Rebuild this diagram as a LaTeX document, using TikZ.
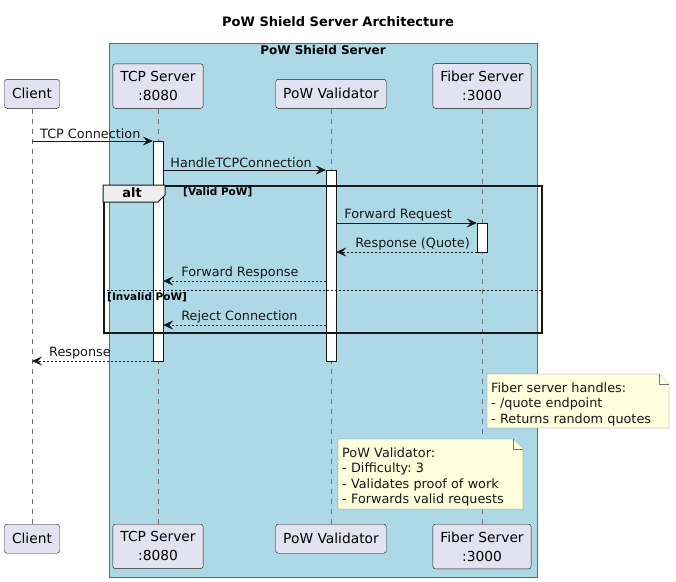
\documentclass[tikz,border=0pt]{standalone}
\usepackage{fontspec}
\setmainfont{DejaVu Sans}
\usetikzlibrary{arrows.meta, positioning}
\definecolor{boxblue}{HTML}{ADD8E6}
\definecolor{partfill}{HTML}{E2E2F0}
\definecolor{notefill}{HTML}{FEFFDD}
\definecolor{inkgray}{HTML}{181818}
\definecolor{tabfill}{HTML}{EEEEEE}
\pgfdeclarelayer{back}
\pgfdeclarelayer{mid}
\pgfsetlayers{back,mid,main}
\frenchspacing
\newcommand\msgfont{\fontsize{12.8}{15.5}\selectfont}
\newcommand\partfont{\fontsize{13.8}{19}\selectfont}
\tikzset{participant/.style={draw=inkgray, fill=partfill, rounded corners=2.5pt, minimum height=29pt, inner xsep=7.5pt, inner ysep=7.5pt, align=center, font=\partfont}}
\tikzset{lifeline/.style={draw=gray!90!black, dash pattern=on 5pt off 5pt}}
\tikzset{activation/.style={draw=inkgray, fill=white, minimum width=10pt, inner sep=0pt, anchor=north}}
\tikzset{msg/.style={draw=inkgray, -{Stealth[length=10pt, width=9pt, inset=4pt]}}}
\tikzset{reply/.style={msg, dash pattern=on 2pt off 2pt}}
\tikzset{msglabel/.style={anchor=south west, inner sep=1pt, font=\msgfont, text=inkgray}}
\tikzset{notebox/.style={draw=gray!90!black, fill=notefill}}
\tikzset{notetext/.style={anchor=north west, inner xsep=4pt, inner ysep=0pt, align=left, font=\msgfont, text=inkgray}}

\begin{document}
\begin{tikzpicture}[x=1pt, y=-1pt]
    \useasboundingbox (0,0) rectangle (676,581);
    \node[font=\bfseries\fontsize{13}{15}\selectfont] (title) at (338,22) {PoW Shield Server Architecture};
    % box around the server side
    \begin{pgfonlayer}{back}
        \draw[draw=gray!80!black, fill=boxblue] (109,43) rectangle (537,577);
    \end{pgfonlayer}
    \node[font=\bfseries\fontsize{12}{14}\selectfont, inner sep=0pt] (boxtitle) at (323,50) {PoW Shield Server};
    % participants, top and bottom
    \foreach \name/\x/\txt in {client/32/Client, tcp/158/{TCP Server\\:8080}, pow/331/PoW Validator, fiber/482/{Fiber Server\\:3000}} {
        \node[participant, anchor=south] (\name) at (\x,108.5) {\txt};
        \node[participant, anchor=north] (\name b) at (\x,524) {\txt};
    }
    \begin{pgfonlayer}{back}
        \foreach \name in {client, tcp, pow, fiber} {
            \draw[lifeline] (\name.south) -- (\name b.north);
        }
    \end{pgfonlayer}
    % activations
    \node[activation, minimum height=220pt] (tcpact) at (158,141) {};
    \node[activation, minimum height=191pt] (powact) at (331,170) {};
    \node[activation, minimum height=29pt] (fiberact) at (482,223) {};
    % message rows
    \coordinate (m1) at (0,141);
    \coordinate (m2) at (0,170);
    \coordinate (m3) at (0,223);
    \coordinate (m4) at (0,252);
    \coordinate (m5) at (0,281);
    \coordinate (m6) at (0,325);
    \coordinate (m7) at (0,361);
    \coordinate (sep) at (0,290);
    % alt frame
    \node[draw=inkgray, line width=1.5pt, minimum width=438pt, minimum height=147pt, inner sep=0pt, anchor=north west] (altframe) at (103,185) {};
    \draw[draw=inkgray, line width=1pt, fill=tabfill] (altframe.north west) -- ++(62,0) -- ++(0,10) -- ++(-7,7) -- ++(-55,0) -- cycle;
    \node[font=\bfseries\fontsize{13}{15}\selectfont, inner sep=0pt] (altlabel) at (132,193) {alt};
    \node[font=\bfseries\fontsize{10.5}{12}\selectfont, anchor=west, inner sep=0pt] (validguard) at (183,192) {[Valid PoW]};
    \draw[draw=inkgray, dash pattern=on 2pt off 2pt] (altframe.west |- sep) -- (altframe.east |- sep);
    \node[font=\bfseries\fontsize{10.5}{12}\selectfont, anchor=west, inner sep=0pt] (invalidguard) at (107,297) {[Invalid PoW]};
    % messages
    \draw[msg] (client |- m1) -- (tcpact.west |- m1) node[msglabel, at start, xshift=7pt, yshift=1pt] {TCP Connection};
    \draw[msg] (tcpact.east |- m2) -- (powact.west |- m2) node[msglabel, at start, xshift=6pt, yshift=1pt] {HandleTCPConnection};
    \draw[msg] (powact.east |- m3) -- (fiberact.west |- m3) node[msglabel, at start, xshift=7pt, yshift=1pt] {Forward Request};
    \draw[reply] (fiberact.west |- m4) -- (powact.east |- m4) node[msglabel, at end, xshift=18pt, yshift=1pt] {Response (Quote)};
    \draw[reply] (powact.west |- m5) -- (tcpact.east |- m5) node[msglabel, at end, xshift=17pt, yshift=1pt] {Forward Response};
    \draw[reply] (powact.west |- m6) -- (tcpact.east |- m6) node[msglabel, at end, xshift=17pt, yshift=1pt] {Reject Connection};
    \draw[reply] (tcpact.west |- m7) -- (client |- m7) node[msglabel, at end, xshift=16pt, yshift=1pt] {Response};
    % notes
    \node[notetext, text width=174pt, minimum height=54pt] (note1) at (487,377) {Fiber server handles:\\- /quote endpoint\\- Returns random quotes};
    \node[notetext, text width=177pt, minimum height=70pt] (note2) at (338,442) {PoW Validator:\\- Difficulty: 3\\- Validates proof of work\\- Forwards valid requests};
    \begin{pgfonlayer}{mid}
        \draw[notebox] (487,374) -- (659,374) -- (669,384) -- (669,428) -- (487,428) -- cycle;
        \draw[notebox] (659,374) -- (659,384) -- (669,384);
        \draw[notebox] (338,439) -- (513,439) -- (523,449) -- (523,509) -- (338,509) -- cycle;
        \draw[notebox] (513,439) -- (513,449) -- (523,449);
    \end{pgfonlayer}
\end{tikzpicture}
\end{document}
